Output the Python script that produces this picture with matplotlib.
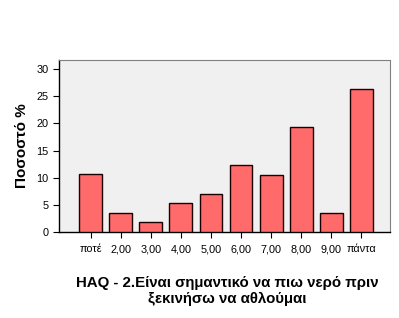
import numpy as np
import matplotlib.pyplot as plt

plt.rcParams['font.family'] = ['Liberation Sans', 'DejaVu Sans']

categories = ['ποτέ', '2,00', '3,00', '4,00', '5,00', '6,00', '7,00', '8,00', '9,00', 'πάντα']
percent = [10.6, 3.5, 1.8, 5.3, 7.0, 12.3, 10.5, 19.3, 3.5, 26.3]
yticks = [0, 5, 10, 15, 20, 25, 30]

fig = plt.figure(figsize=(3.99, 3.18), dpi=100)
ax = fig.add_axes([59 / 399, 1 - 232 / 318, 331 / 399, 172 / 318])
ax.set_facecolor('#F0F0F0')

x = np.arange(len(categories))
ax.bar(x, percent, width=0.76, color='#FF6A6A', edgecolor='#1a0000', linewidth=1.0, zorder=3)

ax.set_xlim(-1.05, 9.95)
ax.set_ylim(0, 31.7)
ax.set_yticks(yticks)
ax.set_xticks(x)
ax.set_xticklabels(categories)
ax.tick_params(axis='both', labelsize=7.8, colors='black', length=4, width=0.8)
ax.tick_params(axis='x', pad=5)

for side in ['top', 'right']:
    ax.spines[side].set_color('#808080')
    ax.spines[side].set_linewidth(0.8)
for side in ['left', 'bottom']:
    ax.spines[side].set_color('black')
    ax.spines[side].set_linewidth(1.0)

ax.set_ylabel('Ποσοστό %', fontsize=11, fontweight='bold', labelpad=5)

fig.text(227 / 399, 1 - 291 / 318, 'HAQ - 2.Είναι σημαντικό να πιω νερό πριν\nξεκινήσω να αθλούμαι',
         ha='center', va='center', fontsize=10.8, fontweight='bold', linespacing=1.25)

fig.savefig('out.png', dpi=100)
